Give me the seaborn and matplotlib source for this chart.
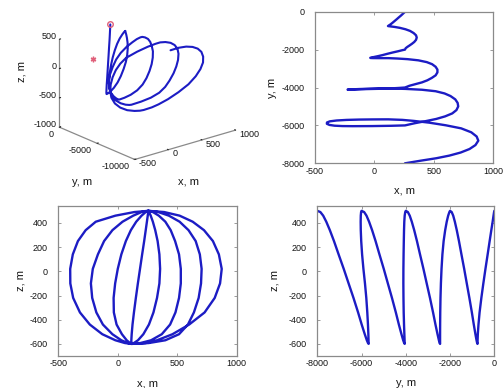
import matplotlib
matplotlib.use("Agg")
import matplotlib.pyplot as plt
import seaborn as sns
import pandas as pd

# trajectory read off the three projections, one list per half-loop
# left loops go top -> bottom, right loops go bottom -> top
z_down = [500, 490, 460, 410, 340, 250, 140, 20, -100, -220, -340, -440, -520, -570, -593, -600]
z_up = [-600, -593, -570, -520, -440, -340, -220, -100, 20, 140, 250, 340, 410, 460, 490, 500]

x_a1 = [257, 256, 252, 245, 235, 222, 205, 187, 169, 152, 136, 124, 117, 114, 115, 117]
y_a1 = [0, -10, -35, -75, -135, -210, -300, -400, -495, -585, -665, -715, -745, -755, -759, -760]
x_b1 = [117, 135, 170, 215, 262, 300, 330, 350, 356, 350, 335, 315, 295, 277, 263, 257]
y_b1 = [-760, -775, -803, -853, -927, -1014, -1126, -1244, -1361, -1485, -1597, -1696, -1783, -1857, -1926, -2000]

x_a2 = [257, 235, 200, 155, 110, 68, 30, 0, -22, -35, -33, -10, 35, 75, 103, 117]
y_a2 = [-2000, -2030, -2085, -2150, -2220, -2290, -2345, -2385, -2413, -2432, -2443, -2448, -2450, -2450, -2450, -2450]
x_b2 = [117, 190, 280, 370, 440, 485, 515, 530, 530, 515, 482, 445, 400, 345, 295, 257]
y_b2 = [-2450, -2469, -2504, -2566, -2659, -2768, -2907, -3055, -3202, -3357, -3496, -3620, -3729, -3822, -3907, -4000]

x_a3 = [257, 200, 130, 40, -45, -115, -167, -210, -226, -215, -180, -125, -45, 30, 85, 117]
y_a3 = [-4000, -4025, -4050, -4068, -4080, -4090, -4100, -4108, -4110, -4105, -4095, -4080, -4065, -4055, -4051, -4050]
x_b3 = [117, 260, 400, 515, 590, 640, 680, 700, 705, 690, 655, 595, 520, 430, 340, 257]
y_b3 = [-4050, -4073, -4118, -4196, -4313, -4450, -4625, -4811, -4996, -5191, -5366, -5522, -5659, -5776, -5883, -6000]

x_a4 = [257, 140, -20, -185, -270, -335, -378, -400, -399, -375, -318, -235, -130, -20, 60, 117]
y_a4 = [-6000, -6020, -6035, -6040, -6035, -6015, -5975, -5915, -5845, -5785, -5740, -5710, -5692, -5684, -5681, -5680]
x_b4 = [117, 235, 330, 460, 600, 730, 815, 860, 874, 850, 800, 725, 630, 520, 390, 257]
y_b4 = [-5680, -5708, -5761, -5854, -5993, -6156, -6364, -6585, -6805, -7037, -7246, -7432, -7594, -7733, -7861, -8000]

start_pt = (257, 0, 500)
target_pt = (0, 0, 0)

xs = x_a1 + x_b1[1:] + x_a2[1:] + x_b2[1:] + x_a3[1:] + x_b3[1:] + x_a4[1:] + x_b4[1:]
ys = y_a1 + y_b1[1:] + y_a2[1:] + y_b2[1:] + y_a3[1:] + y_b3[1:] + y_a4[1:] + y_b4[1:]
zs = z_down + (z_up[1:] + z_down[1:]) * 3 + z_up[1:]
df = pd.DataFrame({"x": xs, "y": ys, "z": zs})

sns.set_style("white")
plt.rcParams["font.family"] = ["Liberation Sans", "DejaVu Sans"]
plt.rcParams["axes.unicode_minus"] = False

BLUE = "#1c1cc4"
GREY = "#8a8a8a"
TXT = "#151515"
TICK_FS = 6.5
LAB_FS = 8
LW = 1.7

fig = plt.figure(figsize=(5.03, 3.88), dpi=100)


def style2d(ax, xt, yt, xl, yl, xlab, ylab, ylabpad):
    ax.set_xlim(*xl)
    ax.set_ylim(*yl)
    ax.set_xticks(xt)
    ax.set_yticks(yt)
    for s in ax.spines.values():
        s.set_color(GREY)
        s.set_linewidth(0.9)
    ax.tick_params(direction="in", length=2.5, width=0.6, color=GREY,
                   top=True, right=True, bottom=True, left=True,
                   labelsize=TICK_FS, labelcolor=TXT)
    ax.tick_params(axis="x", pad=2.5)
    ax.tick_params(axis="y", pad=7.5)
    ax.set_xlabel(xlab, fontsize=LAB_FS, color=TXT, labelpad=7)
    ax.set_ylabel(ylab, fontsize=LAB_FS, color=TXT, labelpad=ylabpad)


# x-y
ax_xy = fig.add_axes([0.6262, 0.5791, 0.3545, 0.3907])
sns.lineplot(data=df, x="x", y="y", sort=False, estimator=None, color=BLUE, lw=LW, ax=ax_xy)
style2d(ax_xy, [-500, 0, 500, 1000], [0, -2000, -4000, -6000, -8000],
        (-500, 1000), (-8000, 0), "x, m", "y, m", 3)

# x-z
ax_xz = fig.add_axes([0.1159, 0.0825, 0.3547, 0.3866])
sns.lineplot(data=df, x="x", y="z", sort=False, estimator=None, color=BLUE, lw=LW, ax=ax_xz)
style2d(ax_xz, [-500, 0, 500, 1000], [400, 200, 0, -200, -400, -600],
        (-500, 1000), (-700, 540), "x, m", "z, m", 3)

# y-z
ax_yz = fig.add_axes([0.6308, 0.0825, 0.3519, 0.3866])
sns.lineplot(data=df, x="y", y="z", sort=False, estimator=None, color=BLUE, lw=LW, ax=ax_yz)
style2d(ax_yz, [-8000, -6000, -4000, -2000, 0], [400, 200, 0, -200, -400, -600],
        (-8000, 0), (-700, 540), "y, m", "z, m", 7)

# 3d view
ax3 = fig.add_axes([0.008, 0.525, 0.56, 0.5], projection="3d")
ax3.plot(df["x"], df["y"], df["z"], color=BLUE, lw=1.5)
ax3.plot([start_pt[0]], [start_pt[1]], [start_pt[2]], "o", mfc="none", mec="#e0607a", ms=4, mew=1)
ax3.plot([target_pt[0]], [target_pt[1]], [target_pt[2]], marker=(6, 2, 0), color="#e0607a", ms=4, mew=1, ls="none")
ax3.set_proj_type("ortho")
ax3.view_init(elev=20.7, azim=-129.5)
ax3.set_box_aspect((1.39, 1.26, 1))
ax3.set_xlim(-500, 1000)
ax3.set_ylim(-10000, 0)
ax3.set_zlim(-1000, 500)
ax3.set_xticks([-500, 0, 500, 1000])
ax3.set_yticks([-10000, -5000, 0])
ax3.set_zticks([-1000, -500, 0, 500])
ax3.grid(False)
for axis in (ax3.xaxis, ax3.yaxis, ax3.zaxis):
    axis.set_pane_color((1, 1, 1, 0))
    axis.pane.set_edgecolor((1, 1, 1, 0))
    axis.line.set_color(GREY)
    axis.line.set_linewidth(0.9)
    axis._axinfo["tick"]["inward_factor"] = 0.0
    axis._axinfo["tick"]["outward_factor"] = 0.15
    axis._axinfo["tick"]["color"] = GREY
ax3.tick_params(labelsize=TICK_FS, labelcolor=TXT, pad=-4)
ax3.tick_params(axis="z", pad=-7)
for t in ax3.xaxis.get_ticklabels():
    t.set_ha("left")
    t.set_va("baseline")
for t in ax3.yaxis.get_ticklabels():
    t.set_ha("right")
    t.set_va("center_baseline")
for t in ax3.zaxis.get_ticklabels():
    t.set_ha("right")
    t.set_va("baseline")

# axis titles of the 3d view
fig.text(21 / 503, 1 - 71 / 388, "z, m", rotation=90, ha="center", va="center",
         fontsize=LAB_FS, color=TXT)
fig.text(82 / 503, 1 - 182 / 388, "y, m", ha="center", va="center", fontsize=LAB_FS, color=TXT)
fig.text(188 / 503, 1 - 182 / 388, "x, m", ha="center", va="center", fontsize=LAB_FS, color=TXT)

fig.savefig("out.png", dpi=100)
